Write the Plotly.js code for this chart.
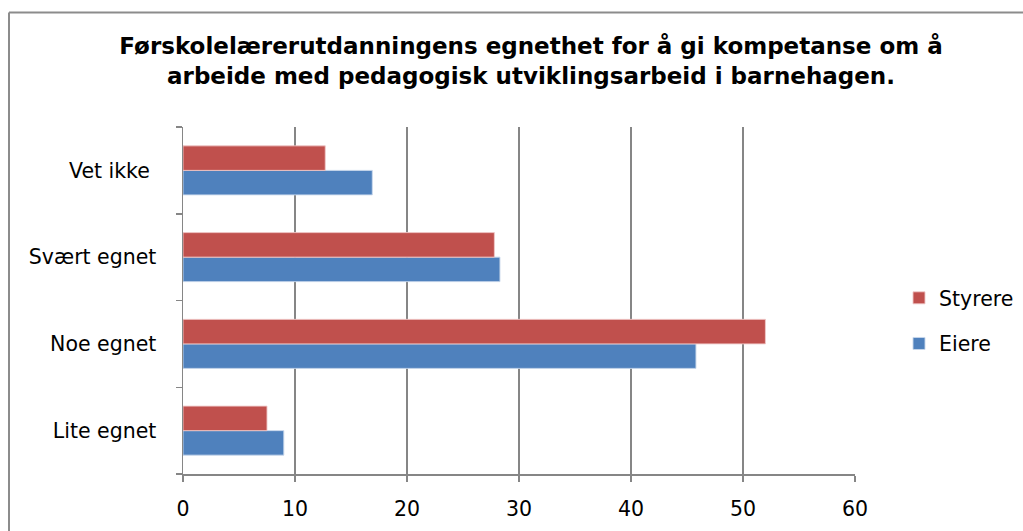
<!DOCTYPE html>
<html>
<head>
<meta charset="utf-8">
<script src="https://cdn.plot.ly/plotly-3.0.1.min.js"></script>
<style>
html,body{margin:0;padding:0;background:#fff;}
#chart{width:1023px;height:531px;}
</style>
</head>
<body>
<div id="chart"></div>
<script>
const categories = ["Lite egnet", "Noe egnet", "Svært egnet", "Vet ikke\u00a0"];
const eiere = [9.0, 45.8, 28.3, 16.9];
const styrere = [7.5, 52.0, 27.8, 12.7];
const xTicks = [0, 10, 20, 30, 40, 50, 60];
const titleText = "Førskolelærerutdanningens egnethet for å gi kompetanse om å<br>arbeide med pedagogisk utviklingsarbeid i barnehagen.";

const W = 1023, H = 531;
const M = {l: 183, r: 168, t: 127, b: 57, autoexpand: false};
const pw = W - M.l - M.r, ph = H - M.t - M.b;
const px = x => (x - M.l) / pw;
const py = y => (H - M.b - y) / ph;

const grey = "#868686";
const labelFont = {family: "'DejaVu Sans', sans-serif", size: 20.5, color: "#000"};

const traces = [
  {
    type: "bar", orientation: "h", name: "Eiere",
    y: categories, x: eiere,
    marker: {color: "#4F81BD", line: {color: "rgba(200,215,235,0.9)", width: 1}},
    legendgroup: "e", legendrank: 2, hoverinfo: "x+y+name"
  },
  {
    type: "bar", orientation: "h", name: "Styrere",
    y: categories, x: styrere,
    marker: {color: "#C0504D", line: {color: "rgba(240,200,200,0.9)", width: 1}},
    legendgroup: "s", legendrank: 1, hoverinfo: "x+y+name"
  }
];

const layout = {
  width: W, height: H,
  margin: M,
  paper_bgcolor: "#fff", plot_bgcolor: "#fff",
  barmode: "group", bargap: 0.435, bargroupgap: 0,
  title: {
    text: titleText,
    font: {family: "'DejaVu Sans', sans-serif", size: 23, color: "#000", weight: "bold"},
    x: px(531), xref: "paper", xanchor: "center",
    y: 1 - 54 / H, yanchor: "middle", yref: "container"
  },
  xaxis: {
    range: [0, 60], tickvals: xTicks, ticktext: xTicks.map(String),
    showgrid: true, gridcolor: grey, gridwidth: 1.5,
    showline: true, linecolor: grey, linewidth: 1.5,
    ticks: "outside", ticklen: 6, tickcolor: grey, tickwidth: 1.5,
    tickfont: labelFont, ticklabelstandoff: 10, zeroline: false, fixedrange: true
  },
  yaxis: {
    type: "category", categoryorder: "array", categoryarray: categories,
    showgrid: false, showline: true, linecolor: grey, linewidth: 1.5,
    ticks: "outside", tickson: "boundaries", ticklen: 6, tickcolor: grey, tickwidth: 1.5,
    tickfont: labelFont, ticklabelstandoff: 21, zeroline: false, fixedrange: true
  },
  legend: {
    x: px(899), xanchor: "left", y: py(278), yanchor: "top",
    traceorder: "grouped", tracegroupgap: 16,
    font: labelFont, itemwidth: 30, bgcolor: "rgba(0,0,0,0)"
  },
  shapes: [
    {type: "line", xref: "paper", yref: "paper", x0: px(9), x1: px(9), y0: py(H + 20), y1: py(12.5), line: {color: "#8c8c8c", width: 2}},
    {type: "line", xref: "paper", yref: "paper", x0: px(9), x1: px(W + 20), y0: py(12.5), y1: py(12.5), line: {color: "#8c8c8c", width: 2}}
  ]
};

Plotly.newPlot("chart", traces, layout, {displayModeBar: false, staticPlot: true});
</script>
</body>
</html>
